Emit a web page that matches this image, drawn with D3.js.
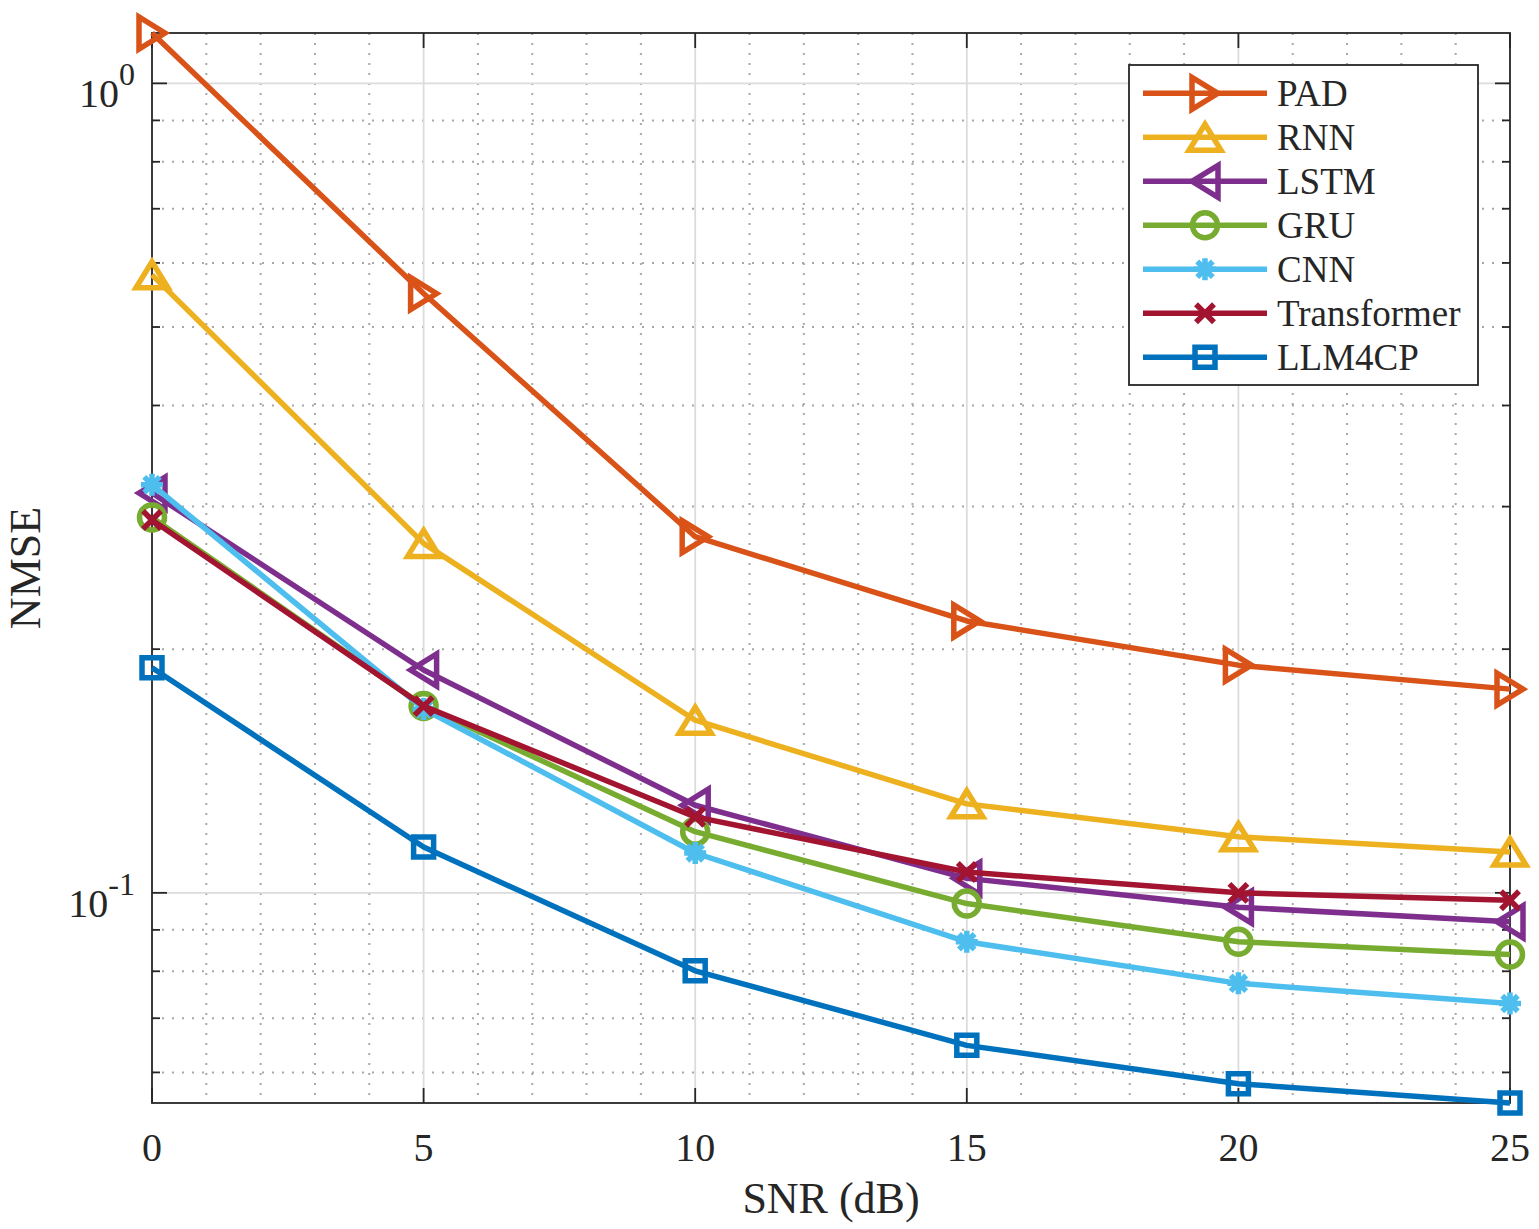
<!DOCTYPE html>
<html>
<head>
<meta charset="utf-8">
<script src="https://cdn.jsdelivr.net/npm/d3@7"></script>
<style>
  html, body { margin: 0; padding: 0; background: #fff; }
  svg { display: block; }
  text { font-family: "Liberation Serif", "Times New Roman", serif; fill: #262626; }
</style>
</head>
<body>
<svg id="chart" width="1539" height="1229"></svg>
<script>
// ---------- data ----------
const snr = [0, 5, 10, 15, 20, 25];
const seriesNames = ["PAD", "RNN", "LSTM", "GRU", "CNN", "Transformer", "LLM4CP"];
const padValues         = [1.154, 0.550, 0.2754, 0.2167, 0.1911, 0.1785];
const rnnValues         = [0.580, 0.2702, 0.1634, 0.1288, 0.1173, 0.1123];
const lstmValues        = [0.3118, 0.1885, 0.1283, 0.1042, 0.0960, 0.0921];
const gruValues         = [0.2909, 0.1701, 0.1190, 0.0970, 0.0870, 0.0839];
const cnnValues         = [0.3193, 0.1687, 0.1120, 0.0870, 0.0773, 0.0730];
const transformerValues = [0.2888, 0.1701, 0.1241, 0.1061, 0.1000, 0.0979];
const llm4cpValues      = [0.1897, 0.1139, 0.0801, 0.0648, 0.0581, 0.0550];
const xTicks = [0, 5, 10, 15, 20, 25];
const yMajorTicks = [0.1, 1];
const yTickExponents = ["-1", "0"];
const xLabel = "SNR (dB)";
const yLabel = "NMSE";

// ---------- styles ----------
const colors = ["#D95319", "#EDB120", "#7E2F8E", "#77AC30", "#4DBEEE", "#A2142F", "#0072BD"];
const markers = ["tri-right", "tri-up", "tri-left", "circle", "star", "x", "square"];
const allValues = [padValues, rnnValues, lstmValues, gruValues, cnnValues, transformerValues, llm4cpValues];

const W = 1539, H = 1229;
const margin = { left: 152, top: 33, right: 29, bottom: 126 };
const pw = W - margin.left - margin.right;
const ph = H - margin.top - margin.bottom;
const LW = 5.5;

const svg = d3.select("#chart");
const g = svg.append("g").attr("transform", `translate(${margin.left},${margin.top})`);

const x = d3.scaleLinear().domain([0, 25]).range([0, pw]);
const yExt = d3.extent(allValues.flat());
const y = d3.scaleLog().domain(yExt).range([ph, 0]);

const axisColor = "#262626";

// ---------- grid ----------
const grid = g.append("g");
const xMinor = d3.range(1, 25).filter(v => v % 5 !== 0);
grid.selectAll(".vminor").data(xMinor).enter().append("line")
  .attr("x1", d => x(d)).attr("x2", d => x(d)).attr("y1", 0).attr("y2", ph)
  .attr("stroke", "#a8a8a8").attr("stroke-width", 2).attr("stroke-dasharray", "2,8");
const yMinor = [];
[0.01, 0.1].forEach(dec => { for (let k = 2; k <= 9; k++) { const v = dec * k; if (v >= yExt[0] && v <= yExt[1]) yMinor.push(v); } });
grid.selectAll(".hminor").data(yMinor).enter().append("line")
  .attr("x1", 0).attr("x2", pw).attr("y1", d => y(d)).attr("y2", d => y(d))
  .attr("stroke", "#a8a8a8").attr("stroke-width", 2).attr("stroke-dasharray", "2,8");
grid.selectAll(".vmajor").data(xTicks.slice(1, -1)).enter().append("line")
  .attr("x1", d => x(d)).attr("x2", d => x(d)).attr("y1", 0).attr("y2", ph)
  .attr("stroke", "#dcdcdc").attr("stroke-width", 1.8);
grid.selectAll(".hmajor").data(yMajorTicks).enter().append("line")
  .attr("x1", 0).attr("x2", pw).attr("y1", d => y(d)).attr("y2", d => y(d))
  .attr("stroke", "#dcdcdc").attr("stroke-width", 1.8);

// ---------- axes box and ticks ----------
const ax = g.append("g");
ax.append("rect").attr("x", 0).attr("y", 0).attr("width", pw).attr("height", ph)
  .attr("fill", "none").attr("stroke", axisColor).attr("stroke-width", 1.8);
yMajorTicks.forEach(v => {
  ax.append("line").attr("x1", 0).attr("x2", 15).attr("y1", y(v)).attr("y2", y(v)).attr("stroke", axisColor).attr("stroke-width", 1.8);
  ax.append("line").attr("x1", pw).attr("x2", pw - 15).attr("y1", y(v)).attr("y2", y(v)).attr("stroke", axisColor).attr("stroke-width", 1.8);
});
yMinor.forEach(v => {
  ax.append("line").attr("x1", 0).attr("x2", 8).attr("y1", y(v)).attr("y2", y(v)).attr("stroke", axisColor).attr("stroke-width", 1.8);
  ax.append("line").attr("x1", pw).attr("x2", pw - 8).attr("y1", y(v)).attr("y2", y(v)).attr("stroke", axisColor).attr("stroke-width", 1.8);
});
xTicks.forEach(v => {
  ax.append("line").attr("x1", x(v)).attr("x2", x(v)).attr("y1", ph).attr("y2", ph - 15).attr("stroke", axisColor).attr("stroke-width", 1.8);
  ax.append("line").attr("x1", x(v)).attr("x2", x(v)).attr("y1", 0).attr("y2", 15).attr("stroke", axisColor).attr("stroke-width", 1.8);
});
g.selectAll(".xtl").data(xTicks).enter().append("text")
  .attr("x", d => x(d)).attr("y", ph + 58)
  .attr("text-anchor", "middle").attr("font-size", 40)
  .text(d => d);
yMajorTicks.forEach((v, i) => {
  const t = g.append("text").attr("x", -17).attr("y", y(v) + 24)
    .attr("text-anchor", "end").attr("font-size", 40);
  t.append("tspan").text("10");
  t.append("tspan").attr("dy", -22).attr("font-size", 32).text(yTickExponents[i]);
});
svg.append("text").attr("x", margin.left + pw / 2).attr("y", 1213)
  .attr("text-anchor", "middle").attr("font-size", 44).text(xLabel);
svg.append("text").attr("transform", `translate(40,${margin.top + ph / 2}) rotate(-90)`)
  .attr("text-anchor", "middle").attr("font-size", 44).text(yLabel);

// ---------- marker shapes ----------
function markerPath(type) {
  switch (type) {
    case "tri-right": return "M13,0 L-13,-16 L-13,16 Z";
    case "tri-left":  return "M-13,0 L13,-16 L13,16 Z";
    case "tri-up":    return "M0,-13 L16,13 L-16,13 Z";
    case "circle":    return "M12.5,0 A12.5,12.5 0 1,1 -12.5,0 A12.5,12.5 0 1,1 12.5,0 Z";
    case "square":    return "M-10,-10 L10,-10 L10,10 L-10,10 Z";
    case "x":         return "M-9,-9 L9,9 M-9,9 L9,-9";
    case "star": {
      const r = 11, d = r * Math.SQRT1_2;
      return `M${-r},0 L${r},0 M0,${-r} L0,${r} M${-d},${-d} L${d},${d} M${-d},${d} L${d},${-d}`;
    }
  }
}

// ---------- series ----------
const line = d3.line().x((d, i) => x(snr[i])).y(d => y(d));
const plot = g.append("g");
allValues.forEach((vals, si) => {
  const sg = plot.append("g");
  sg.append("path").attr("d", line(vals)).attr("fill", "none")
    .attr("stroke", colors[si]).attr("stroke-width", LW).attr("stroke-linejoin", "round");
  sg.selectAll("path.m").data(vals).enter().append("path").attr("class", "m")
    .attr("transform", (d, i) => `translate(${x(snr[i])},${y(d)})`)
    .attr("d", markerPath(markers[si]))
    .attr("fill", "none").attr("stroke", colors[si]).attr("stroke-width", LW)
    .attr("stroke-linejoin", "miter");
});

// ---------- legend ----------
const lg = svg.append("g");
lg.append("rect").attr("x", 1129).attr("y", 65).attr("width", 349).attr("height", 320)
  .attr("fill", "#fff").attr("stroke", axisColor).attr("stroke-width", 1.8);
seriesNames.forEach((name, i) => {
  const cy = 93.3 + i * 44;
  lg.append("line").attr("x1", 1143).attr("x2", 1267).attr("y1", cy).attr("y2", cy)
    .attr("stroke", colors[i]).attr("stroke-width", LW);
  lg.append("path").attr("transform", `translate(1205,${cy})`).attr("d", markerPath(markers[i]))
    .attr("fill", "none").attr("stroke", colors[i]).attr("stroke-width", LW);
  lg.append("text").attr("x", 1277).attr("y", cy + 13).attr("font-size", 37).attr("fill", "#000").text(name);
});
</script>
</body>
</html>
